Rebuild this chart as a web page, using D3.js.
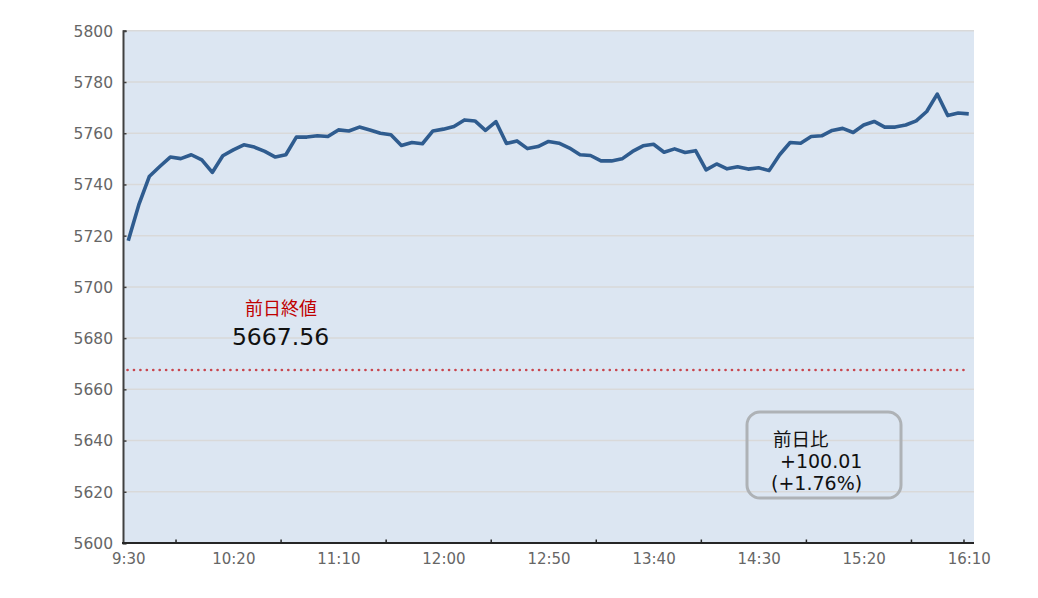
<!DOCTYPE html>
<html>
<head>
<meta charset="utf-8">
<script src="https://cdn.jsdelivr.net/npm/d3@7/dist/d3.min.js"></script>
<style>
  html, body { margin: 0; padding: 0; background: #ffffff; }
  svg { display: block; }
</style>
</head>
<body>
<svg id="chart" width="1038" height="598"></svg>
<script>
// ---- data ----
const startLabel = "9:30";
const stepMinutes = 5;
const values = [
  5718.0, 5732.0, 5743.1, 5747.0, 5750.7, 5750.1, 5751.6, 5749.6, 5744.7, 5751.2,
  5753.5, 5755.5, 5754.6, 5752.9, 5750.7, 5751.6, 5758.5, 5758.5, 5759.0, 5758.7,
  5761.3, 5760.9, 5762.4, 5761.3, 5760.0, 5759.4, 5755.2, 5756.4, 5755.9, 5760.9,
  5761.6, 5762.6, 5765.2, 5764.8, 5761.1, 5764.5, 5756.0, 5757.0, 5754.0, 5754.8,
  5756.8, 5756.1, 5754.2, 5751.6, 5751.3, 5749.2, 5749.2, 5750.0, 5752.9, 5755.1,
  5755.7, 5752.6, 5753.9, 5752.5, 5753.2, 5745.7, 5748.0, 5746.1, 5746.9, 5746.0,
  5746.5, 5745.4, 5751.6, 5756.4, 5756.1, 5758.7, 5759.0, 5761.1, 5761.9, 5760.3,
  5763.2, 5764.6, 5762.4, 5762.4, 5763.2, 5764.8, 5768.5, 5775.3, 5766.9, 5767.9,
  5767.57
];
const xTickLabels = ["9:30", "10:20", "11:10", "12:00", "12:50", "13:40", "14:30", "15:20", "16:10"];
const yTicks = [5600, 5620, 5640, 5660, 5680, 5700, 5720, 5740, 5760, 5780, 5800];
const prevClose = 5667.56;
const prevCloseTitle = "前日終値";
const prevCloseText = "5667.56";
const diffTitle = "前日比";
const diffText = "+100.01";
const diffPctText = "(+1.76%)";

(function () {
// ---- helpers ----
function toMin(t) { const [h, m] = t.split(":").map(Number); return h * 60 + m; }
const t0 = toMin(startLabel);
const points = values.map((v, i) => ({ m: i * stepMinutes, v }));
const labelMinutes = xTickLabels.map(t => toMin(t) - t0);
const lastMin = (values.length - 1) * stepMinutes;
// tick marks sit on category boundaries
const tickMinutes = labelMinutes.slice(0, -1).map(m => m + 22.5).concat([lastMin - 2.5]);

// ---- layout ----
const svg = d3.select("#chart");
const pLeft = 123, pRight = 974, pTop = 30.8, pBottom = 543;
const font = "'DejaVu Sans', 'Noto Sans CJK JP', sans-serif";

const x = d3.scaleLinear().domain([-2.5, lastMin + 2.5]).range([pLeft, pRight]);
const y = d3.scaleLinear().domain([5600, 5800]).range([pBottom, pTop]);

// plot background
svg.append("rect")
  .attr("x", pLeft).attr("y", pTop - 0.8)
  .attr("width", pRight - pLeft).attr("height", pBottom - pTop + 0.8)
  .attr("fill", "#dce6f2");

// gridlines
svg.append("g")
  .selectAll("line")
  .data(yTicks.filter(d => d !== 5600))
  .join("line")
  .attr("x1", pLeft).attr("x2", pRight)
  .attr("y1", d => y(d)).attr("y2", d => y(d))
  .attr("stroke", "#d9d9d9").attr("stroke-width", 1.5);

// y axis
const yAxis = d3.axisLeft(y).tickValues(yTicks).tickSize(-3.5).tickPadding(13).tickFormat(d3.format("d"));
const gy = svg.append("g").attr("transform", `translate(${pLeft},0)`).call(yAxis);
gy.select(".domain").attr("stroke", "#404040").attr("stroke-width", 2);
gy.selectAll(".tick line").attr("stroke", "#404040").attr("stroke-width", 1.5);
gy.selectAll(".tick text")
  .attr("fill", "#666666").attr("font-size", 15.5).attr("font-family", font)
  .attr("x", -10).attr("dy", "0.35em");

// x axis (labels)
const xAxisLabels = d3.axisBottom(x).tickValues(labelMinutes).tickSize(0).tickPadding(0)
  .tickFormat((d, i) => xTickLabels[i]);
const gxl = svg.append("g").attr("transform", `translate(0,${pBottom})`).call(xAxisLabels);
gxl.select(".domain").remove();
gxl.selectAll(".tick text")
  .attr("fill", "#666666").attr("font-size", 15).attr("font-family", font)
  .attr("y", 20.5).attr("dy", 0);

// x axis (line + tick marks)
const xAxisTicks = d3.axisBottom(x).tickValues(tickMinutes).tickSize(-3.5).tickFormat("");
const gx = svg.append("g").attr("transform", `translate(0,${pBottom})`).call(xAxisTicks);
gx.select(".domain").attr("stroke", "#262626").attr("stroke-width", 2.2).attr("d", `M${pLeft - 1},0H${pRight}`);
gx.selectAll(".tick line").attr("stroke", "#262626").attr("stroke-width", 1.5);

// previous close dotted line
svg.append("line")
  .attr("x1", x(0) - 0.7).attr("x2", x(lastMin))
  .attr("y1", y(prevClose)).attr("y2", y(prevClose))
  .attr("stroke", "#c9464e").attr("stroke-width", 2.7)
  .attr("stroke-linecap", "round")
  .attr("stroke-dasharray", "0,6.43");

// price line
const line = d3.line().x(d => x(d.m)).y(d => y(d.v));
svg.append("path")
  .datum(points)
  .attr("d", line)
  .attr("fill", "none")
  .attr("stroke", "#2f5c8f")
  .attr("stroke-width", 3.6)
  .attr("stroke-linejoin", "round");

// previous close annotation
svg.append("text")
  .attr("x", 281).attr("y", 314.5)
  .attr("text-anchor", "middle")
  .attr("font-family", "'Noto Sans CJK JP', sans-serif")
  .attr("font-size", 18).attr("fill", "#c00000")
  .text(prevCloseTitle);
svg.append("text")
  .attr("x", 280.5).attr("y", 345)
  .attr("text-anchor", "middle")
  .attr("font-family", font)
  .attr("font-size", 23.5).attr("fill", "#111111")
  .text(prevCloseText);

// difference box
svg.append("rect")
  .attr("x", 747).attr("y", 412)
  .attr("width", 154).attr("height", 86)
  .attr("rx", 13).attr("ry", 13)
  .attr("fill", "none")
  .attr("stroke", "#aeb2b6").attr("stroke-width", 3);
svg.append("text")
  .attr("x", 773).attr("y", 445.5)
  .attr("font-family", "'Noto Sans CJK JP', sans-serif")
  .attr("font-size", 18.5).attr("fill", "#111111")
  .text(diffTitle);
svg.append("text")
  .attr("x", 780).attr("y", 468)
  .attr("font-family", font)
  .attr("font-size", 19).attr("fill", "#111111")
  .text(diffText);
svg.append("text")
  .attr("x", 771).attr("y", 490)
  .attr("font-family", font)
  .attr("font-size", 19).attr("fill", "#111111")
  .text(diffPctText);
})();
</script>
</body>
</html>
